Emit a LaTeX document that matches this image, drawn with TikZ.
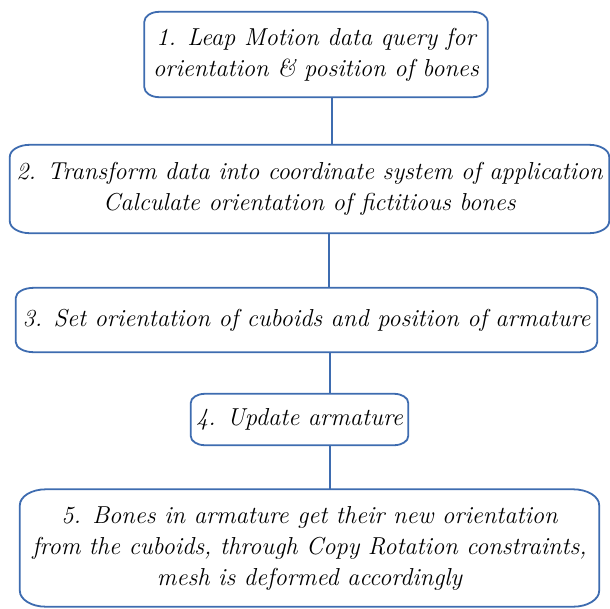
\documentclass[tikz,border=0pt]{standalone}
\definecolor{boxblue}{RGB}{62,108,176}
\begin{document}
\begin{tikzpicture}[x=1pt,y=-1pt,
  txt/.style={align=center,inner sep=0pt,font=\fontsize{24.5}{31}\selectfont\itshape,text=black},
  conn/.style={draw=boxblue,line width=1.6pt},
  bord/.style={draw=boxblue,line width=1.8pt}]
\path[fill=white,use as bounding box] (0,0) rectangle (610,608);
\newcommand\rbox[3]{%
  \draw[bord] ([xshift=#2]#1.north west) -- ([xshift=-#2]#1.north east)
    arc[start angle=90,end angle=0,x radius=#2,y radius=#3]
    -- ([yshift=#3]#1.south east)
    arc[start angle=0,end angle=-90,x radius=#2,y radius=#3]
    -- ([xshift=#2]#1.south west)
    arc[start angle=270,end angle=180,x radius=#2,y radius=#3]
    -- ([yshift=-#3]#1.north west)
    arc[start angle=180,end angle=90,x radius=#2,y radius=#3] -- cycle;}
\node[txt,minimum width=343pt,minimum height=85pt] (b1) at (316,54.5)
  {1. Leap Motion data query for\\orientation \& position of bones};
\node[txt,minimum width=599pt,minimum height=88pt] (b2) at (309.5,189)
  {2. Transform data into coordinate system of application\\Calculate orientation of fictitious bones};
\node[txt,minimum width=581pt,minimum height=64pt] (b3) at (306.5,320)
  {3. Set orientation of cuboids and position of armature};
\node[txt,minimum width=217pt,minimum height=51pt] (b4) at (299.5,419.5)
  {4. Update armature};
\node[txt,minimum width=579pt,minimum height=117pt] (b5) at (309.5,548)
  {5. Bones in armature get their new orientation\\from the cuboids, through Copy Rotation constraints,\\mesh is deformed accordingly};
\rbox{b1}{15pt}{10pt}
\rbox{b2}{20pt}{12pt}
\rbox{b3}{18pt}{10pt}
\rbox{b4}{14pt}{9pt}
\rbox{b5}{26pt}{16pt}
\coordinate (c12) at (332,0);
\coordinate (c23) at (329,0);
\coordinate (c34) at (330,0);
\coordinate (c45) at (330,0);
\draw[conn] (b1.south -| c12) -- (b2.north -| c12);
\draw[conn] (b2.south -| c23) -- (b3.north -| c23);
\draw[conn] (b3.south -| c34) -- (b4.north -| c34);
\draw[conn] (b4.south -| c45) -- (b5.north -| c45);
\end{tikzpicture}
\end{document}
